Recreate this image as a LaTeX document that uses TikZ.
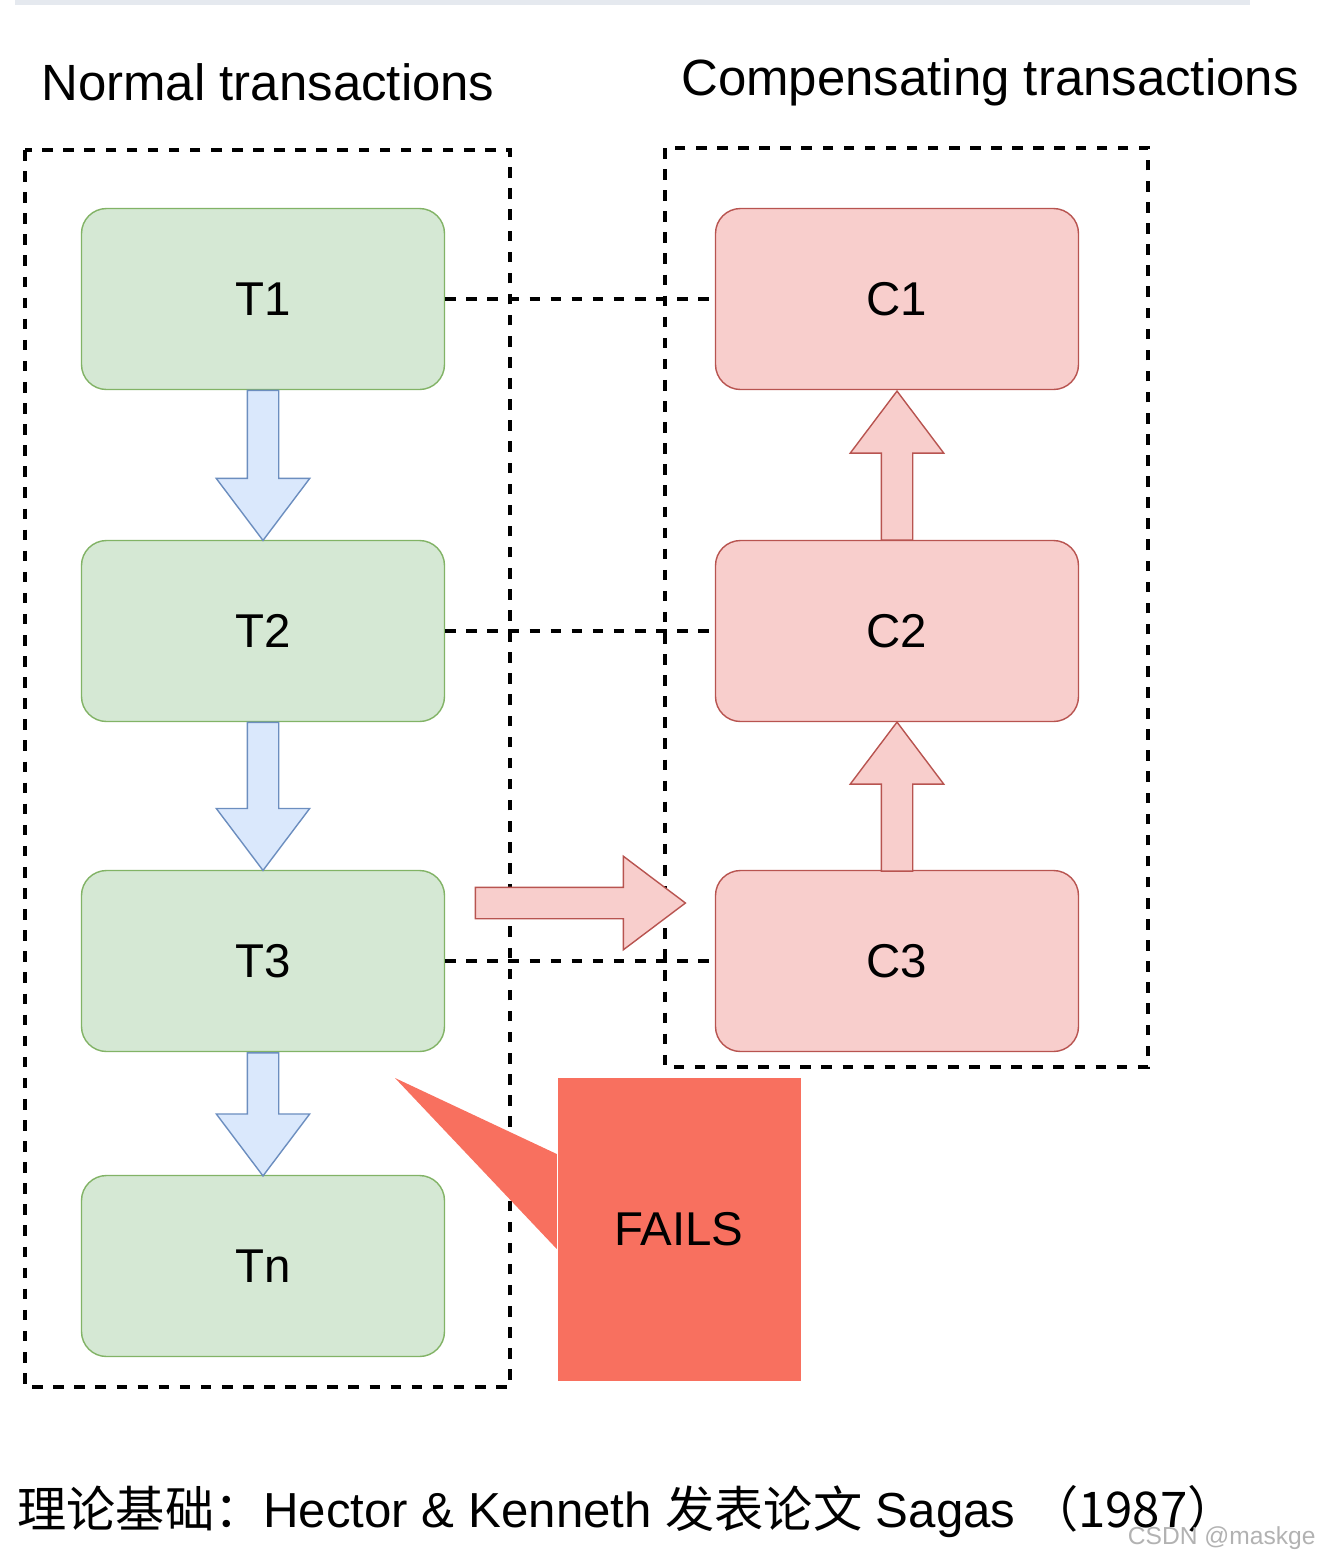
\documentclass[tikz,border=0pt]{standalone}
\usepackage{fontspec}
\setmainfont{Liberation Sans}
\newfontfamily\cjk{Noto Sans CJK SC}
\usetikzlibrary{shapes.arrows,positioning,calc}
\definecolor{tfill}{HTML}{D5E8D4}
\definecolor{tdraw}{HTML}{82B366}
\definecolor{cfill}{HTML}{F8CECC}
\definecolor{cdraw}{HTML}{B85450}
\definecolor{afill}{HTML}{DAE8FC}
\definecolor{adraw}{HTML}{6C8EBF}
\definecolor{failfill}{HTML}{F8705F}
\tikzstyle{normal} = [rectangle, rounded corners=0.25cm, minimum width=3.63cm, minimum height=1.81cm, text centered, draw=tdraw, fill=tfill, font=\fontsize{13.5}{16}\selectfont]
\tikzstyle{comp} = [normal, draw=cdraw, fill=cfill]
\tikzstyle{group} = [draw, dashed, thick, line width=1.2pt, dash pattern=on 3pt off 3pt]
\tikzstyle{link} = [line width=1pt, dash pattern=on 3pt off 3pt]
\tikzstyle{fwd} = [single arrow, draw=adraw, fill=afill, inner sep=0.15cm, minimum width=0.92cm, single arrow head extend=0.31cm, single arrow tip angle=74, shape border rotate=270]
\tikzstyle{back} = [fwd, draw=cdraw, fill=cfill, shape border rotate=90]
\begin{document}
\begin{tikzpicture}
	\useasboundingbox (0,0) rectangle (13.28,-15.52);
	\fill [afill!70!gray!40] (0.15,0) rectangle (12.5,-0.05);
	
	\node (ntitle) at (2.68,-0.82) {\fontsize{14.5}{17}\selectfont Normal transactions};
	\node (ctitle) at (9.9,-0.82) {\fontsize{14.5}{17}\selectfont Compensating transactions};
	\draw [group] (0.25,-1.5) rectangle (5.1,-13.87);
	\draw [group] (6.65,-1.48) rectangle (11.48,-10.67);
	
	\node (t1) [normal] at (2.63,-2.99) {T1};
	\node (t2) [normal] at (2.63,-6.31) {T2};
	\node (t3) [normal] at (2.63,-9.61) {T3};
	\node (tn) [normal] at (2.63,-12.66) {Tn};
	\node (c1) [comp] at (8.97,-2.99) {C1};
	\node (c2) [comp] at (8.97,-6.31) {C2};
	\node (c3) [comp] at (8.97,-9.61) {C3};
	
	%arrows
	\node [fwd, minimum height=1.5cm] at (2.63,-4.55) {};
	\node [fwd, minimum height=1.48cm] at (2.63,-7.86) {};
	\node [fwd, minimum height=1.23cm] at (2.63,-11.04) {};
	\node [back, minimum height=1.49cm] at (8.97,-8.07) {};
	\node [back, minimum height=1.49cm] at (8.97,-4.76) {};
	\node [back, shape border rotate=0, minimum height=2.1cm] at (5.7,-9.03) {};
	
	\draw [link] (t1) -- (c1);
	\draw [link] (t2) -- (c2);
	\draw [link] (t3) -- (c3);
	
	%callout
	\node (fails) [rectangle, fill=failfill, minimum width=2.43cm, minimum height=3.03cm, font=\fontsize{13.5}{16}\selectfont] at (6.79,-12.29) {FAILS};
	\fill [failfill] ($(fails.west)+(0,0.75)$) -- (3.95,-10.78) -- ($(fails.west)+(0,-0.2)$) -- cycle;
	
	\node (note) [anchor=west] at (0.05,-15.12) {\fontsize{14}{17}\selectfont{\cjk 理论基础：}Hector \& Kenneth {\cjk 发表论文} Sagas {\cjk （1987）}};
	\node (mark) [anchor=east, text=gray!60, font=\fontsize{7}{8}\selectfont] at (13.28,-15.38) {CSDN @maskge};
\end{tikzpicture}
\end{document}
